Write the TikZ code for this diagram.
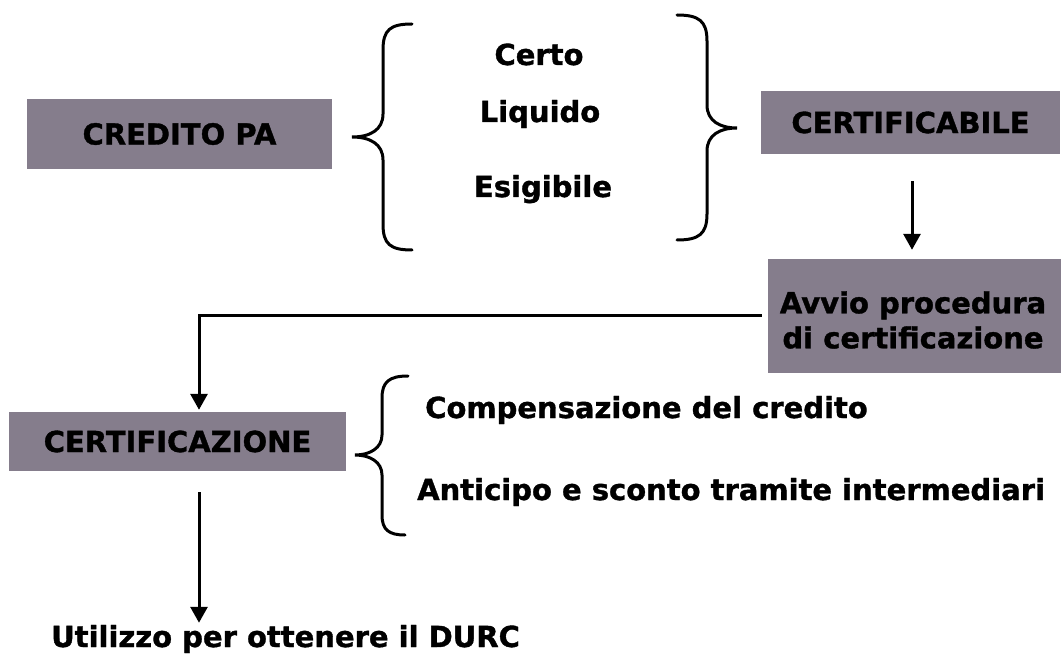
\documentclass[tikz,border=0pt]{standalone}
\usepackage{fontspec}
\setmainfont{DejaVu Sans}[BoldFeatures={FakeBold=1.2}]
\usetikzlibrary{arrows.meta}
\definecolor{boxgray}{RGB}{133,125,140}
\tikzset{
  box/.style={fill=boxgray, draw=none, inner sep=0pt, align=center, font=\fontsize{29}{35}\selectfont\bfseries},
  lbl/.style={inner sep=0pt, font=\fontsize{29}{35}\selectfont\bfseries},
  brace/.style={line width=3pt, line cap=round},
  arr/.style={line width=3pt, -{Triangle[width=17pt,length=16pt]}},
  conn/.style={line width=3pt}
}
\begin{document}
\begin{tikzpicture}[x=1pt,y=-1pt]
\useasboundingbox (0,0) rectangle (1061,655);
% boxes
\node[box, minimum width=305pt, minimum height=70pt] (pa) at (179.5,134) {CREDITO PA};
\node[box, minimum width=299pt, minimum height=63pt] (cb) at (910.5,122.5) {CERTIFICABILE};
\node[box, minimum width=293pt, minimum height=114pt] (av) at (914.5,316) {};
\node[lbl, align=center] (avt) at (913,320) {Avvio procedura\\di certificazione};
\node[box, minimum width=337pt, minimum height=59pt] (cz) at (177.5,441.5) {CERTIFICAZIONE};
% brace texts
\node[lbl, anchor=base] (ce) at (539,65) {Certo};
\node[lbl, anchor=base] (li) at (540,122) {Liquido};
\node[lbl, anchor=base] (es) at (543,197) {Esigibile};
\node[lbl, anchor=base west] (co) at (425,418) {Compensazione del credito};
\node[lbl, anchor=base west] (an) at (417,500) {Anticipo e sconto tramite intermediari};
\node[lbl, anchor=base west] (du) at (51,647) {Utilizzo per ottenere il DURC};
% braces
\draw[brace] (412,24) .. controls (390,24) and (383,30) .. (383,50) -- (383,114)
  .. controls (383,130) and (370,137) .. (352,137)
  .. controls (370,137) and (383,144) .. (383,160) -- (383,224)
  .. controls (383,244) and (390,250) .. (412,250);
\draw[brace] (677,15) .. controls (699,15) and (707,21) .. (707,41) -- (707,105)
  .. controls (707,121) and (720,128) .. (737,128)
  .. controls (720,128) and (707,135) .. (707,151) -- (707,214)
  .. controls (707,234) and (699,240) .. (677,240);
\draw[brace] (408,376) .. controls (389,376) and (382,382) .. (382,398) -- (382,435)
  .. controls (382,448) and (370,455) .. (355,455)
  .. controls (370,455) and (382,462) .. (382,475) -- (382,515)
  .. controls (382,530) and (389,535) .. (405,535);
% connectors
\coordinate (a1) at ([xshift=1.5pt,yshift=-27pt]cb.south);
\coordinate (a2) at ([yshift=9pt]av.north -| a1);
\coordinate (c1) at ([xshift=21.5pt,yshift=2pt]cz.north);
\coordinate (d1) at ([xshift=21.5pt,yshift=-21pt]cz.south);
\coordinate (d2) at ([yshift=2pt]du.north -| d1);
\draw[arr] (a1) -- (a2);
\draw[arr] ([xshift=-6pt]av.west) -| (c1);
\draw[arr] (d1) -- (d2);
\end{tikzpicture}
\end{document}
